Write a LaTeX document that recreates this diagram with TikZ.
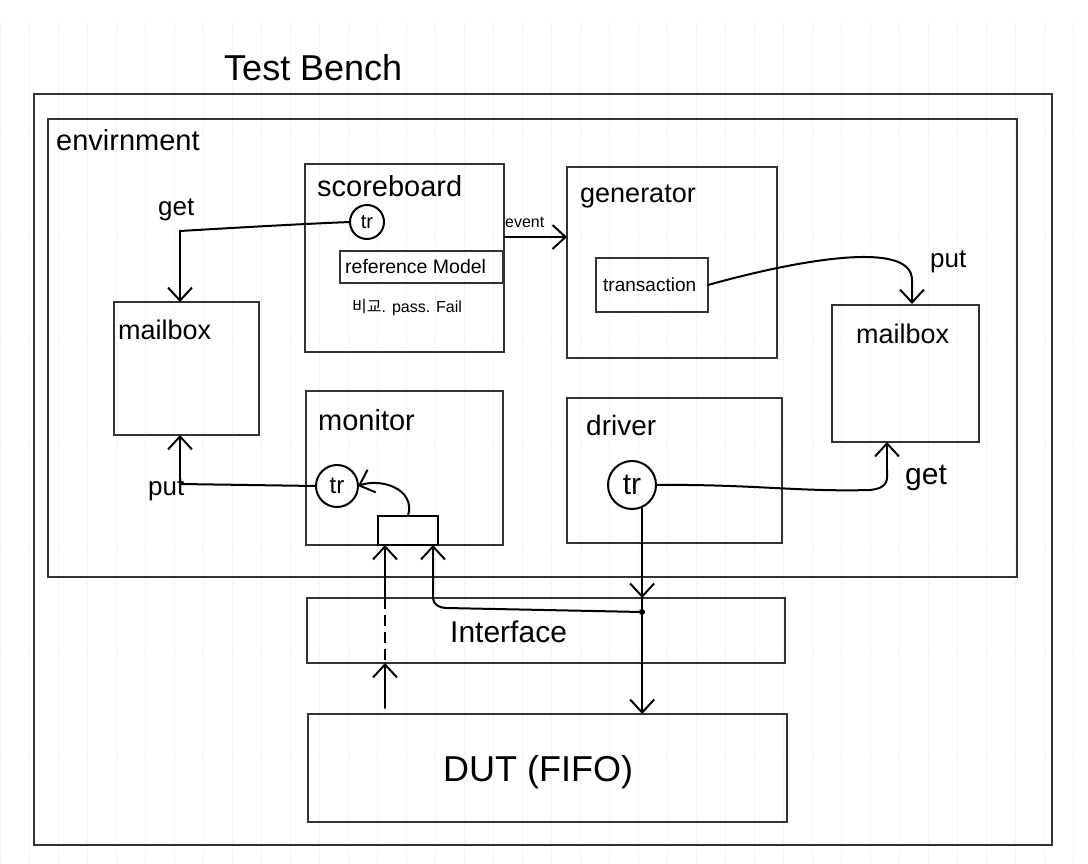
\documentclass[tikz,border=0pt]{standalone}
\usepackage{fontspec}
\setmainfont{Liberation Sans}
\newfontfamily\krfont{Noto Sans CJK KR}
\usetikzlibrary{arrows.meta,calc}
\tikzset{
  boxline/.style={draw=black!80, line width=1.3pt, inner sep=0pt, outer sep=0pt, anchor=north west},
  conn/.style={draw=black, line width=2pt, line cap=round, line join=round},
  arr/.style={conn, -{Straight Barb[length=13pt,width=24pt,line width=2pt]}},
  lbl/.style={anchor=west, inner sep=0pt, text=black},
  trc/.style={circle, draw=black, line width=2pt, inner sep=0pt, outer sep=0pt},
  gridline/.style={draw=black!10, line width=0.6pt, dotted},
}
\begin{document}
\begin{tikzpicture}[x=1pt,y=-1pt]
\useasboundingbox[fill=white] (0,0) rectangle (1088,864);
\draw[gridline, step=29] (0,20) grid (1088,864);

% title
\node[lbl] (title) at (224,68) {\fontsize{36}{40}\selectfont Test Bench};

% outer boxes
\node[boxline, minimum width=1018, minimum height=751] (tb) at (34,94) {};
\node[boxline, minimum width=969, minimum height=458] (env) at (48,119) {};
\node[lbl] (envl) at (56,140) {\fontsize{29}{32}\selectfont envirnment};

% scoreboard
\node[boxline, minimum width=199, minimum height=188] (sb) at (305,164) {};
\node[lbl] (sbl) at (317,186) {\fontsize{29}{32}\selectfont scoreboard};
\node[trc, minimum size=34] (sbtr) at (367,222) {\fontsize{20}{22}\selectfont tr};
\node[boxline, minimum width=163, minimum height=32] (ref) at (340,251) {};
\node[lbl] (refl) at (345,267) {\fontsize{19.5}{21}\selectfont reference Model};
\node[lbl] (cmp) at (352,308) {\fontsize{16}{18}\selectfont {\krfont 비교}. pass. Fail};

% generator
\node[boxline, minimum width=210, minimum height=191] (gen) at (567,167) {};
\node[lbl] (genl) at (580,197) {\fontsize{27}{30}\selectfont generator};
\node[boxline, minimum width=112, minimum height=54] (trans) at (596,258) {};
\node[lbl] (transl) at (603,285) {\fontsize{19}{21}\selectfont transaction};

% mailboxes
\node[boxline, minimum width=145, minimum height=133] (mbL) at (114,302) {};
\node[lbl] (mbLl) at (118,330) {\fontsize{27}{30}\selectfont mailbox};
\node[boxline, minimum width=147, minimum height=137] (mbR) at (832,305) {};
\node[lbl] (mbRl) at (856,334) {\fontsize{27}{30}\selectfont mailbox};

% monitor
\node[boxline, minimum width=197, minimum height=154] (mon) at (306,391) {};
\node[lbl] (monl) at (318,420) {\fontsize{29}{32}\selectfont monitor};
\node[trc, minimum size=42] (montr) at (337,486) {\fontsize{24}{26}\selectfont tr};
\node[boxline, draw=black, line width=2pt, minimum width=60, minimum height=29] (monbox) at (378,516) {};

% driver
\node[boxline, minimum width=215, minimum height=145] (drv) at (567,398) {};
\node[lbl] (drvl) at (586,425) {\fontsize{28}{31}\selectfont driver};
\node[trc, minimum size=48] (drtr) at (632,485) {\fontsize{30}{32}\selectfont tr};

% interface and DUT
\node[boxline, minimum width=478, minimum height=65] (ifc) at (307,598) {};
\node[lbl] (ifcl) at (450,632) {\fontsize{30}{33}\selectfont Interface};
\node[boxline, minimum width=479, minimum height=108] (dut) at (308,714) {};
\node[lbl] (dutl) at (443,772) {\fontsize{36}{40}\selectfont DUT (FIFO)};

% labels on connectors
\node[lbl] (getL) at (158,210) {\fontsize{26}{28}\selectfont get};
\node[lbl] (evt) at (505,222) {\fontsize{16}{18}\selectfont event};
\node[lbl] (putR) at (930,262) {\fontsize{26}{28}\selectfont put};
\node[lbl] (putL) at (148,490) {\fontsize{26}{28}\selectfont put};
\node[lbl] (getR) at (905,478) {\fontsize{30}{32}\selectfont get};

% coordinates
\coordinate (gL) at (180,231);
\coordinate (pL) at (180,484);
\coordinate (ev) at (504,237);
\coordinate (gR) at (887,470);
\coordinate (mx) at (385,0);
\coordinate (nx) at (433,0);
\coordinate (jn) at (642,612);

% scoreboard <- get from left mailbox
\draw[conn] (sbtr.west) .. controls (300,224) and (230,228) .. (gL);
\draw[arr] (gL) -- (gL |- mbL.north);
% event
\draw[arr] (ev) -- (ev -| gen.west);
% transaction -> right mailbox
\draw[arr] (trans.east) .. controls (790,262) and (912,238) .. (912,280) -- (912,304);
% monitor tr -> left mailbox
\draw[conn] (montr.west) -- (pL);
\draw[arr] (pL) -- (pL |- mbL.south);
% monitor box -> tr
\draw[arr] (monbox.north) .. controls (416,488) and (380,478) .. (montr.east);
% interface -> monitor box
\draw[arr] (mx |- ifc.north) -- (mx |- monbox.south);
\draw[conn, line width=1.6pt, line cap=butt, dash pattern=on 11pt off 6pt] (mx |- ifc.north) -- (mx |- ifc.south);
\draw[arr] (mx |- dut.north) ++(0,-6) -- (mx |- ifc.south);
\draw[arr] (jn) -- (446,608) to[out=180,in=-90] (nx |- 0,598) -- (nx |- monbox.south);
% driver
\draw[conn] (drtr.east) .. controls (750,484) and (800,492) .. (870,490) .. controls (890,488) and (887,478) .. (gR);
\draw[arr] (gR) -- (gR |- mbR.south);
\draw[arr] (drtr.-65) -- (drtr.-65 |- ifc.north);
\draw[arr] (drtr.-65 |- ifc.north) -- (drtr.-65 |- dut.north);
\fill (jn) circle (3);
\end{tikzpicture}
\end{document}
